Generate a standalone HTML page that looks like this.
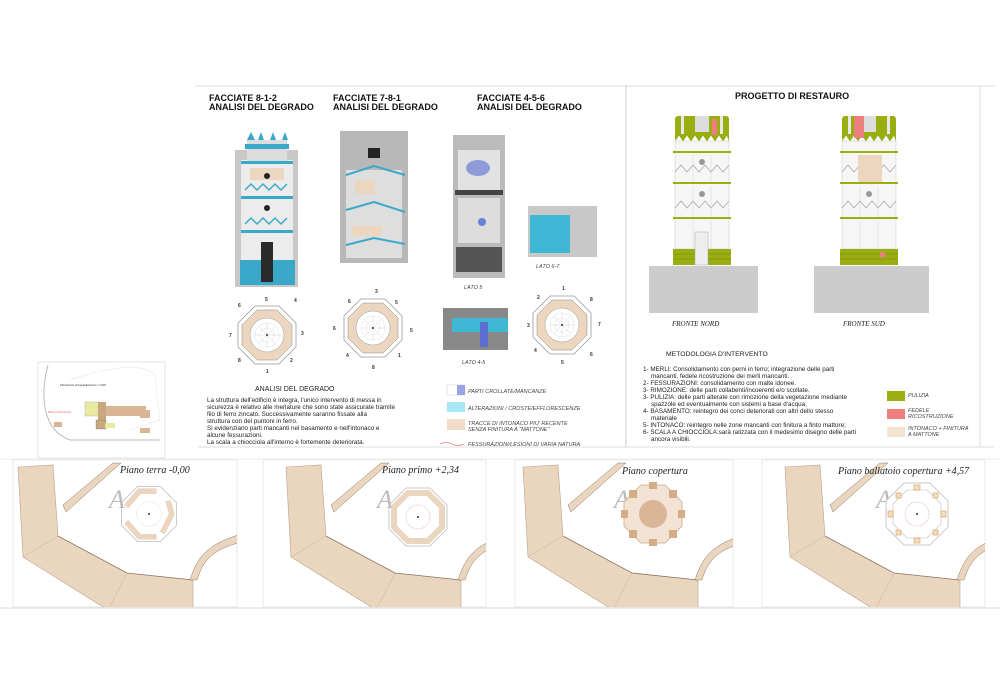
<!DOCTYPE html>
<html><head><meta charset="utf-8"><style>
html,body{margin:0;padding:0;background:#fff;}
svg{display:block;}
text{font-family:"Liberation Sans",sans-serif;}
.h{font-weight:bold;font-size:9px;fill:#111;}
.p{font-size:6.3px;fill:#222;}
.lg{font-size:5.5px;font-style:italic;fill:#444;}
.sc{font-family:"Liberation Serif",serif;font-style:italic;fill:#222;}
</style></head><body>
<svg width="1000" height="692" viewBox="0 0 1000 692" xmlns="http://www.w3.org/2000/svg">
<defs>
<g id="oct">
 <polygon points="-12,-29 12,-29 29,-12 29,12 12,29 -12,29 -29,12 -29,-12" fill="#fff" stroke="#999" stroke-width="0.8"/>
 <polygon points="-10,-25 10,-25 25,-10 25,10 10,25 -10,25 -25,10 -25,-10" fill="#ecd6c0" stroke="#888" stroke-width="0.5"/>
 <circle r="17" fill="#fff" stroke="#999" stroke-width="0.5"/>
 <circle r="12" fill="none" stroke="#aaa" stroke-width="0.4" stroke-dasharray="1,1"/>
 <circle r="7" fill="none" stroke="#aaa" stroke-width="0.4" stroke-dasharray="1,1"/>
 <path d="M-12 0H12M0 -12V12M-8.5 -8.5L8.5 8.5M-8.5 8.5L8.5 -8.5" stroke="#bbb" stroke-width="0.3"/>
 <circle r="1" fill="#333"/>
</g>
<g id="site">
 <polygon points="5,7 40,5 45,76 114,113 180,120 180,150 95,150 10,97" fill="#ead5bf" stroke="#b9a28c" stroke-width="0.6"/>
 <path d="M45,76 L114,113 L180,120" fill="none" stroke="#8d7a68" stroke-width="0.8"/>
 <path d="M95,150 L114,113" stroke="#c8b5a0" stroke-width="0.5"/>
 <path d="M10,97 L45,76" stroke="#c8b5a0" stroke-width="0.5"/>
 <polygon points="50,45 100,3 108,3 53,52" fill="#ead5bf" stroke="#8d7a68" stroke-width="0.5"/>
 <path d="M177,120 C185,95 195,85 225,75 L225,83 C200,90 190,100 184,120 Z" fill="#ead5bf" stroke="#8d7a68" stroke-width="0.5"/>
 <text x="96" y="48" class="sc" font-size="26" fill="#bbb" style="fill:#bbb">A</text>
</g>
<g id="tw">
 <rect x="0" y="0" width="54" height="25" rx="3" fill="#9aae12"/>
 <rect x="6" y="0" width="3" height="18" fill="#e8e8e8"/><rect x="20" y="0" width="14" height="16" fill="#ddd"/>
 <rect x="45" y="0" width="3" height="18" fill="#e8e8e8"/>
 <path d="M0 25 L4 19 L8 25 L12 19 L16 25 L20 19 L24 25 L28 19 L32 25 L36 19 L40 25 L44 19 L48 25 L52 19 L54 25" fill="#fff" stroke="#9aae12" stroke-width="0.6"/>
 <rect x="0" y="25" width="54" height="108" fill="#f6f6f6" stroke="#bbb" stroke-width="0.4"/>
 <rect x="-2" y="35" width="58" height="2" fill="#9aae12"/>
 <rect x="-2" y="66" width="58" height="2" fill="#9aae12"/>
 <rect x="-2" y="101" width="58" height="2" fill="#9aae12"/>
 <path d="M0 56 L6 49 L12 56 L18 49 L24 56 L30 49 L36 56 L42 49 L48 56 L54 49" fill="none" stroke="#aaa" stroke-width="0.8"/>
 <path d="M0 92 L6 85 L12 92 L18 85 L24 92 L30 85 L36 92 L42 85 L48 92 L54 85" fill="none" stroke="#aaa" stroke-width="0.8"/>
 <circle cx="27" cy="46" r="3" fill="#999"/><circle cx="27" cy="78" r="3" fill="#999"/>
 <path d="M18 39V66M36 39V66M18 70V101M36 70V101M18 105V133M36 105V133" stroke="#ccc" stroke-width="0.4"/>
</g>
</defs>

<!-- top frame -->
<line x1="195" y1="86" x2="995" y2="86" stroke="#ddd" stroke-width="1"/>
<line x1="198" y1="447" x2="994" y2="447" stroke="#ddd" stroke-width="1"/>
<line x1="626" y1="86" x2="626" y2="447" stroke="#ccc" stroke-width="1"/>
<line x1="980" y1="86" x2="980" y2="447" stroke="#ddd" stroke-width="1"/>

<!-- headings -->
<text x="209" y="101" class="h">FACCIATE 8-1-2</text><text x="209" y="110" class="h">ANALISI DEL DEGRADO</text>
<text x="333" y="101" class="h">FACCIATE 7-8-1</text><text x="333" y="110" class="h">ANALISI DEL DEGRADO</text>
<text x="477" y="101" class="h">FACCIATE 4-5-6</text><text x="477" y="110" class="h">ANALISI DEL DEGRADO</text>

<!-- photo 1 -->
<rect x="235" y="150" width="63" height="137" fill="#c8c8c8"/>
<rect x="241" y="160" width="52" height="100" fill="#ececec"/>
<rect x="247" y="140" width="40" height="22" fill="#ddd"/>
<path d="M247 140 l4 -8 4 8 M258 140 l3 -8 3 8 M270 140 l3 -8 3 8 M282 140 l3 -8 3 8" fill="#3aa9c9"/>
<rect x="245" y="144" width="44" height="5" fill="#3aa9c9"/>
<rect x="241" y="161" width="52" height="3" fill="#3aa9c9"/>
<rect x="241" y="196" width="52" height="3" fill="#3aa9c9"/>
<rect x="241" y="230" width="52" height="3" fill="#3aa9c9"/>
<path d="M245 190 l6 -6 6 6 6 -6 6 6 6 -6 6 6 6 -6" fill="none" stroke="#3aa9c9" stroke-width="1.5"/>
<path d="M245 224 l6 -6 6 6 6 -6 6 6 6 -6 6 6 6 -6" fill="none" stroke="#3aa9c9" stroke-width="1.5"/>
<rect x="250" y="168" width="34" height="12" fill="#ecd6c0"/>
<circle cx="267" cy="176" r="3" fill="#222"/><circle cx="267" cy="208" r="3" fill="#222"/>
<rect x="240" y="260" width="55" height="25" fill="#3aa9c9"/>
<rect x="261" y="242" width="12" height="40" fill="#2a2a2a"/>

<!-- photo 2 -->
<rect x="340" y="131" width="68" height="132" fill="#b8b8b8"/>
<rect x="346" y="170" width="56" height="88" fill="#dedede"/>
<rect x="368" y="148" width="12" height="10" fill="#222"/>
<path d="M346 175 L374 166 L405 175" fill="none" stroke="#3aa9c9" stroke-width="2"/>
<path d="M346 210 L374 202 L405 212" fill="none" stroke="#3aa9c9" stroke-width="2"/>
<path d="M346 245 L374 238 L405 244" fill="none" stroke="#3aa9c9" stroke-width="2"/>
<rect x="355" y="180" width="20" height="14" fill="#ecd6c0"/>
<rect x="352" y="226" width="30" height="10" fill="#ecd6c0"/>

<!-- photo 3 -->
<rect x="453" y="135" width="52" height="143" fill="#bbb"/>
<rect x="458" y="150" width="42" height="40" fill="#e2e2e2"/>
<ellipse cx="478" cy="168" rx="12" ry="8" fill="#6a7fd6" opacity="0.7"/>
<rect x="455" y="190" width="48" height="5" fill="#444"/>
<rect x="458" y="198" width="42" height="45" fill="#ddd"/>
<circle cx="482" cy="222" r="4" fill="#6a7fd6"/>
<rect x="456" y="247" width="46" height="25" fill="#555"/>
<text x="464" y="289" class="lg">LATO 5</text>

<!-- lato 6-7 -->
<rect x="528" y="206" width="69" height="51" fill="#c8c8c8"/>
<rect x="530" y="215" width="40" height="38" fill="#3fb6d3"/>
<text x="536" y="268" class="lg">LATO 6-7</text>

<!-- lato 4-5 -->
<rect x="443" y="308" width="65" height="42" fill="#888"/>
<rect x="452" y="318" width="56" height="14" fill="#3fb6d3"/>
<rect x="480" y="322" width="8" height="25" fill="#5c6fd0"/>
<text x="462" y="364" class="lg">LATO 4-5</text>

<!-- plans -->
<use href="#oct" x="267" y="335"/>
<use href="#oct" x="373" y="328"/>
<use href="#oct" x="562" y="325"/>
<g font-size="5" fill="#333" font-weight="bold">
<text x="265" y="301">5</text><text x="238" y="307">6</text><text x="294" y="302">4</text><text x="229" y="337">7</text><text x="301" y="335">3</text><text x="238" y="362">8</text><text x="290" y="362">2</text><text x="266" y="373">1</text>
<text x="375" y="293">3</text><text x="348" y="303">6</text><text x="395" y="304">5</text><text x="333" y="330">6</text><text x="410" y="332">5</text><text x="346" y="357">4</text><text x="398" y="357">1</text><text x="372" y="369">8</text>
<text x="562" y="290">1</text><text x="537" y="299">2</text><text x="590" y="301">8</text><text x="527" y="327">3</text><text x="598" y="326">7</text><text x="534" y="352">4</text><text x="590" y="356">6</text><text x="561" y="364">5</text>
</g>

<!-- text left -->
<text x="255" y="391" font-size="7" fill="#222">ANALISI DEL DEGRADO</text>
<g class="p">
<text x="207" y="402">La struttura dell'edificio è integra,  l'unico intervento di messa in</text>
<text x="207" y="409">sicurezza è relativo alle merlature che sono state assicurate tramite</text>
<text x="207" y="416">filo di ferro zincato. Successivamente   saranno fissate alla</text>
<text x="207" y="423">struttura con dei puntoni in ferro.</text>
<text x="207" y="430">Si evidenziano parti mancanti nel basamento e nell'intonaco e</text>
<text x="207" y="437">alcune fessurazioni.</text>
<text x="207" y="444">La scala a chiocciola all'interno è fortemente deteriorata.</text>
</g>
<!-- legend left -->
<rect x="447" y="385" width="18" height="10" fill="#fff" stroke="#ccd" stroke-width="0.5"/><rect x="457" y="385" width="8" height="10" fill="#9aa5e6"/>
<rect x="447" y="402" width="18" height="10" fill="#a8e6f6"/>
<rect x="447" y="419" width="18" height="11" fill="#f0dcc8"/>
<path d="M440 444 q6 -3 12 0 t12 0" fill="none" stroke="#e88" stroke-width="0.8"/>
<g class="lg" font-size="5">
<text x="468" y="393">PARTI CROLLATE/MANCANZE</text>
<text x="468" y="410">ALTERAZIONI / CROSTE/EFFLORESCENZE</text>
<text x="468" y="425">TRACCE DI INTONACO PIU' RECENTE</text>
<text x="468" y="431">SENZA FINITURA A "MATTONE"</text>
<text x="468" y="446">FESSURAZIONI/LESIONI DI VARIA NATURA</text>
</g>

<!-- right panel -->
<text x="735" y="99" class="h">PROGETTO DI RESTAURO</text>
<use href="#tw" x="675" y="116"/>
<rect x="693" y="116" width="0" height="0"/>
<rect x="712" y="119" width="5" height="16" fill="#ee7f7f"/>
<rect x="673" y="249" width="58" height="16" fill="#9aae12"/>
<path d="M673 254H731M673 259H731" stroke="#6c7c08" stroke-width="0.4"/>
<rect x="695" y="232" width="13" height="33" fill="#eee" stroke="#aaa" stroke-width="0.5"/>
<rect x="649" y="266" width="109" height="47" fill="#ccc"/>
<use href="#tw" x="842" y="116"/>
<rect x="854" y="116" width="10" height="22" fill="#ee7f7f"/>
<rect x="858" y="155" width="24" height="27" fill="#ecd6c0"/>
<rect x="840" y="249" width="58" height="16" fill="#9aae12"/>
<path d="M840 254H898M840 259H898" stroke="#6c7c08" stroke-width="0.4"/>
<rect x="880" y="252" width="5" height="5" fill="#ee7f7f"/>
<rect x="814" y="266" width="115" height="47" fill="#ccc"/>
<text x="672" y="326" class="sc" font-size="7">FRONTE NORD</text>
<text x="843" y="326" class="sc" font-size="7">FRONTE SUD</text>

<text x="666" y="356" font-size="6.8" fill="#222">METODOLOGIA D'INTERVENTO</text>
<g class="p">
<text x="643" y="371">1- MERLI: Consolidamento con perni in ferro; integrazione delle parti</text>
<text x="651" y="378">mancanti, fedele ricostruzione dei merli mancanti.</text>
<text x="643" y="385">2- FESSURAZIONI: consolidamento con malte idonee.</text>
<text x="643" y="392">3- RIMOZIONE: delle parti  collabenti/incoerenti e/o scollate.</text>
<text x="643" y="399">3- PULIZIA: delle parti alterate con rimozione della vegetazione  mediante</text>
<text x="651" y="406">spazzole ed eventualmente con sistemi  a base d'acqua;</text>
<text x="643" y="413">4- BASAMENTO: reintegro dei conci deteriorati con altri dello stesso</text>
<text x="651" y="420">materiale</text>
<text x="643" y="427">5- INTONACO: reintegro nelle zone mancanti con finitura a finto mattore;</text>
<text x="643" y="434">6- SCALA A CHIOCCIOLA:sarà ralizzata con il medesimo disegno delle parti</text>
<text x="651" y="441">ancora visibili.</text>
</g>
<rect x="887" y="391" width="18" height="10" fill="#9aae12"/>
<rect x="887" y="409" width="18" height="10" fill="#ee7f7f"/>
<rect x="887" y="427" width="18" height="10" fill="#f3e3d3"/>
<g class="lg" font-size="5.5">
<text x="908" y="397">PULIZIA</text>
<text x="908" y="412">FEDELE</text><text x="908" y="418">RICOSTRUZIONE</text>
<text x="908" y="430">INTONACO + FINITURA</text><text x="908" y="436">A MATTONE</text>
</g>

<!-- small site map -->
<rect x="38" y="362" width="127" height="96" fill="#fff" stroke="#ddd" stroke-width="0.8"/>
<path d="M48 365 C40 395 42 430 70 440 L160 440" fill="none" stroke="#bbb" stroke-width="1"/>
<path d="M70 380 C100 370 140 360 155 375 L160 420 L130 430" fill="none" stroke="#ccc" stroke-width="0.6" stroke-dasharray="1,1"/>
<text x="60" y="386" class="sc" font-size="3">Planimetria di inquadramento 1:1000</text>
<rect x="85" y="402" width="14" height="14" fill="#e8eaa0" stroke="#888" stroke-width="0.3"/>
<rect x="98" y="402" width="8" height="20" fill="#c9a880"/>
<rect x="106" y="406" width="40" height="10" fill="#d7b595"/>
<rect x="140" y="410" width="10" height="8" fill="#d7b595"/>
<rect x="96" y="420" width="10" height="9" fill="#c9a880" stroke="#666" stroke-width="0.3"/>
<rect x="105" y="423" width="10" height="5" fill="#e8eaa0"/>
<rect x="140" y="428" width="10" height="5" fill="#d7b595"/>
<rect x="54" y="422" width="8" height="5" fill="#d7b595"/>
<text x="48" y="413" font-size="3" fill="#e55">Piano d'ottocento</text>

<!-- bottom panels -->
<line x1="0" y1="608" x2="1000" y2="608" stroke="#ddd" stroke-width="1"/>
<line x1="0" y1="459" x2="1000" y2="459" stroke="#eee" stroke-width="1"/>
<clipPath id="c1"><rect x="13" y="460" width="224" height="147"/></clipPath>
<clipPath id="c2"><rect x="263" y="460" width="223" height="147"/></clipPath>
<clipPath id="c3"><rect x="515" y="460" width="218" height="147"/></clipPath>
<clipPath id="c4"><rect x="762" y="460" width="223" height="147"/></clipPath>
<rect x="13" y="460" width="224" height="147" fill="#fff" stroke="#e5e5e5" stroke-width="0.8"/>
<rect x="263" y="460" width="223" height="147" fill="#fff" stroke="#e5e5e5" stroke-width="0.8"/>
<rect x="515" y="460" width="218" height="147" fill="#fff" stroke="#e5e5e5" stroke-width="0.8"/>
<rect x="762" y="460" width="223" height="147" fill="#fff" stroke="#e5e5e5" stroke-width="0.8"/>
<g clip-path="url(#c1)"><use href="#site" x="13" y="460"/></g>
<g clip-path="url(#c2)"><use href="#site" x="281" y="460"/></g>
<g clip-path="url(#c3)"><use href="#site" x="518" y="460"/></g>
<g clip-path="url(#c4)"><use href="#site" x="780" y="460"/></g>
<!-- tower plans -->
<g transform="translate(149,514) scale(0.95)">
 <polygon points="-12,-29 12,-29 29,-12 29,12 12,29 -12,29 -29,12 -29,-12" fill="none" stroke="#bbb" stroke-width="0.8"/>
 <path d="M-24 -8 L-10 -24 L8 -24 M20 -14 L24 0 L14 20 M8 24 L-10 24 L-24 8" fill="none" stroke="#ead5bf" stroke-width="6"/>
 <circle r="13" fill="#fff" stroke="#aaa" stroke-width="0.4" stroke-dasharray="1,1"/><circle r="1" fill="#333"/>
</g>
<g transform="translate(418,517)">
 <polygon points="-12,-29 12,-29 29,-12 29,12 12,29 -12,29 -29,12 -29,-12" fill="none" stroke="#bbb" stroke-width="0.8"/>
 <polygon points="-10,-24 10,-24 24,-10 24,10 10,24 -10,24 -24,10 -24,-10" fill="none" stroke="#ead5bf" stroke-width="6"/>
 <circle r="12" fill="#fff" stroke="#c98" stroke-width="0.6" stroke-dasharray="1,1"/><circle r="1" fill="#333"/>
</g>
<g transform="translate(653,514)">
 <polygon points="-12,-29 12,-29 29,-12 29,12 12,29 -12,29 -29,12 -29,-12" fill="#f2e3d5" stroke="#d4b89c" stroke-width="1"/>
 <circle r="14" fill="#d9b796"/>
 <g fill="#d4ac88"><rect x="-4" y="-32" width="8" height="7"/><rect x="-4" y="25" width="8" height="7"/><rect x="-32" y="-4" width="7" height="8"/><rect x="25" y="-4" width="7" height="8"/>
 <rect x="16" y="-24" width="8" height="8"/><rect x="-24" y="-24" width="8" height="8"/><rect x="16" y="16" width="8" height="8"/><rect x="-24" y="16" width="8" height="8"/></g>
</g>
<g transform="translate(917,514)">
 <polygon points="-13,-31 13,-31 31,-13 31,13 13,31 -13,31 -31,13 -31,-13" fill="#fff" stroke="#bbb" stroke-width="0.8"/>
 <polygon points="-10,-24 10,-24 24,-10 24,10 10,24 -10,24 -24,10 -24,-10" fill="none" stroke="#bbb" stroke-width="0.6"/>
 <g fill="#f2dcc4" stroke="#d99a4e" stroke-width="0.6"><rect x="-3" y="-29" width="6" height="5"/><rect x="-3" y="24" width="6" height="5"/><rect x="-29" y="-3" width="5" height="6"/><rect x="24" y="-3" width="5" height="6"/>
 <rect x="16" y="-21" width="5" height="5"/><rect x="-21" y="-21" width="5" height="5"/><rect x="16" y="16" width="5" height="5"/><rect x="-21" y="16" width="5" height="5"/></g>
 <circle r="12" fill="#fff" stroke="#c98" stroke-width="0.6" stroke-dasharray="1,1"/><circle r="1" fill="#333"/>
</g>
<text x="120" y="473" class="sc" font-size="10">Piano terra -0,00</text>
<text x="382" y="473" class="sc" font-size="10">Piano primo +2,34</text>
<text x="622" y="474" class="sc" font-size="10">Piano copertura</text>
<text x="838" y="474" class="sc" font-size="10">Piano ballatoio copertura +4,57</text>
</svg>
</body></html>
